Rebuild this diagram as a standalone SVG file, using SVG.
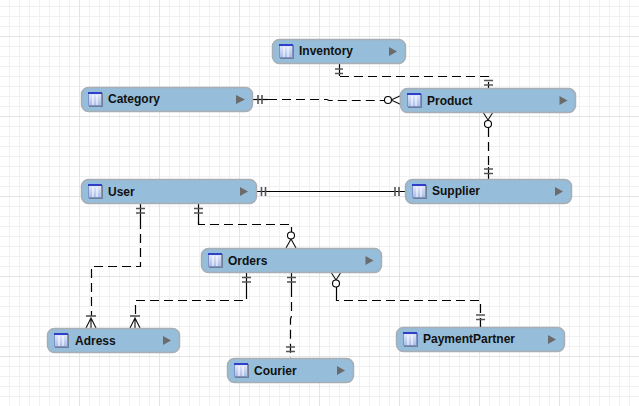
<svg xmlns="http://www.w3.org/2000/svg" width="639" height="406" viewBox="0 0 639 406">
<defs>
<pattern id="minor" width="10" height="10" patternUnits="userSpaceOnUse" x="-1" y="6"><path d="M0.500 0V10M0 0.500H10" fill="none" stroke="#f1f1f1" stroke-width="1"/></pattern>
<pattern id="major" width="80" height="80" patternUnits="userSpaceOnUse" x="-1" y="36"><path d="M0.500 0V80M0 0.500H80" fill="none" stroke="#e4e4e4" stroke-width="1"/></pattern>
<linearGradient id="ic" x1="0" y1="0" x2="0" y2="1"><stop offset="0" stop-color="#e6ecfb"/><stop offset="1" stop-color="#a9bbe6"/></linearGradient>
<g id="tbl"><rect x="1" y="1" width="14" height="14" fill="#6f7f95"/><rect x="0.500" y="0.500" width="13" height="13" fill="url(#ic)" stroke="#7f93c8"/><rect x="0" y="0" width="14" height="2" fill="#2f3fc8"/><path d="M5 3V13M9 3V13" stroke="#ffffff" stroke-width="1"/></g>
</defs>
<style>
.n{fill:#96bdd9;stroke:#a8aeb4;stroke-width:1.500}
.t{font-family:"Liberation Sans",Arial,sans-serif;font-size:12px;font-weight:700;fill:#111}
.a{fill:#6b6b6b}
.c{fill:none;stroke:#000;stroke-width:1.200;stroke-dasharray:9 5}
.s{fill:none;stroke:#000;stroke-width:1.200}
.f{fill:none;stroke:#111;stroke-width:1.100}
.k{fill:none;stroke:#555;stroke-width:1.600}
.o{fill:#fff;stroke:#000;stroke-width:1.100}
</style>
<rect width="639" height="406" fill="#ffffff"/>
<rect width="639" height="406" fill="url(#minor)"/>
<rect width="639" height="406" fill="url(#major)"/>
<g id="connectors">
<path class="s" d="M339.500 64V76"/><path class="k" d="M335 69H343M335 73.500H343"/>
<path class="c" d="M340 76.500H488.500V88"/>
<path class="k" d="M484 80.500H493M484 85H493"/>
<path class="s" d="M253 99.500H268"/><path class="k" d="M258 95V104M262 95V104"/>
<path class="c" d="M268 99.500H327L329 100.500H384"/>
<circle class="o" cx="388" cy="100" r="3.500"/><path class="f" d="M391 100L401 95.500M391 100L401 104.500"/>
<path class="c" d="M488.500 128V167"/>
<path class="s" d="M488.500 167V179"/><path class="f" d="M483.500 113L488 120M492.500 113L488 120"/>
<circle class="o" cx="488" cy="124" r="3.500"/>
<path class="k" d="M484 169H493M484 173.500H493"/>
<path class="s" d="M256 191.500H405"/><path class="k" d="M261.500 187V196M265.500 187V196M395 187V196M399 187V196"/>
<path class="s" d="M140.500 204V220"/><path class="k" d="M136 208.500H145M136 213H145"/>
<path class="c" d="M140.500 220V266.500H91.500V316"/>
<path class="k" d="M86 316H96"/><path class="f" d="M86 328L91 318L96 328M91 318V328"/>
<path class="s" d="M198.500 204V224"/><path class="k" d="M194 208.500H203M194 213H203"/>
<path class="c" d="M198.500 222V224.500H291.500V232"/>
<circle class="o" cx="291" cy="235.500" r="3.500"/><path class="f" d="M291 239L286 248M291 239L296 248"/>
<path class="s" d="M246.500 273V290"/><path class="k" d="M242 277.500H251M242 282H251"/>
<path class="c" d="M246.500 290V300.500H135.500V316"/>
<path class="k" d="M130 316H140"/><path class="f" d="M130 328L135 318L140 328M135 318V328"/>
<path class="s" d="M291.500 273V288"/><path class="k" d="M287 277.500H296M287 282H296"/>
<path class="c" d="M291.500 288V316L290.500 319V358"/>
<path class="k" d="M286 347H295M286 351.500H295"/>
<path class="s" d="M336.500 287V294"/><path class="f" d="M331.500 273L336 280M340.500 273L336 280"/>
<circle class="o" cx="336" cy="283.500" r="3.500"/>
<path class="c" d="M336.500 294V300.500H480.500V327"/>
<path class="k" d="M476 315H485M476 319.500H485"/>
</g>
<g id="inventory"><rect class="n" x="272.500" y="39.500" width="133" height="24" rx="7"/><use href="#tbl" x="279" y="44"/><text class="t" x="299" y="55">Inventory</text><path class="a" d="M389 47L397 51.500L389 56Z"/></g>
<g id="category"><rect class="n" x="81.500" y="87.500" width="171" height="24" rx="7"/><use href="#tbl" x="88" y="92"/><text class="t" x="108" y="103">Category</text><path class="a" d="M236 95L245 99.500L236 104Z"/></g>
<g id="product"><rect class="n" x="400.500" y="88.500" width="175" height="24" rx="7"/><use href="#tbl" x="407" y="93"/><text class="t" x="427" y="105">Product</text><path class="a" d="M559.500 96L567.500 100.500L559.500 105Z"/></g>
<g id="user"><rect class="n" x="81.500" y="179.500" width="175" height="24" rx="7"/><use href="#tbl" x="88" y="184"/><text class="t" x="108" y="196">User</text><path class="a" d="M240 187L248 191.500L240 196Z"/></g>
<g id="supplier"><rect class="n" x="405.500" y="179.500" width="166" height="24" rx="7"/><use href="#tbl" x="412" y="184"/><text class="t" x="432" y="195">Supplier</text><path class="a" d="M555 187L563 191.500L555 196Z"/></g>
<g id="orders"><rect class="n" x="201.500" y="248.500" width="180" height="24" rx="7"/><use href="#tbl" x="208" y="253"/><text class="t" x="228" y="265">Orders</text><path class="a" d="M365.500 256L373.500 260.500L365.500 265Z"/></g>
<g id="adress"><rect class="n" x="47.500" y="328.500" width="132" height="24" rx="7"/><use href="#tbl" x="54" y="333"/><text class="t" x="75" y="345">Adress</text><path class="a" d="M163 336L171 340.500L163 345Z"/></g>
<g id="courier"><rect class="n" x="227.500" y="358.500" width="126" height="24" rx="7"/><use href="#tbl" x="234" y="363"/><text class="t" x="254" y="375">Courier</text><path class="a" d="M337 366L345 370.500L337 375Z"/></g>
<g id="paymentpartner"><rect class="n" x="396.500" y="327.500" width="168" height="24" rx="7"/><use href="#tbl" x="403" y="332"/><text class="t" x="423" y="343">PaymentPartner</text><path class="a" d="M548 335L556 339.500L548 344Z"/></g>
</svg>
